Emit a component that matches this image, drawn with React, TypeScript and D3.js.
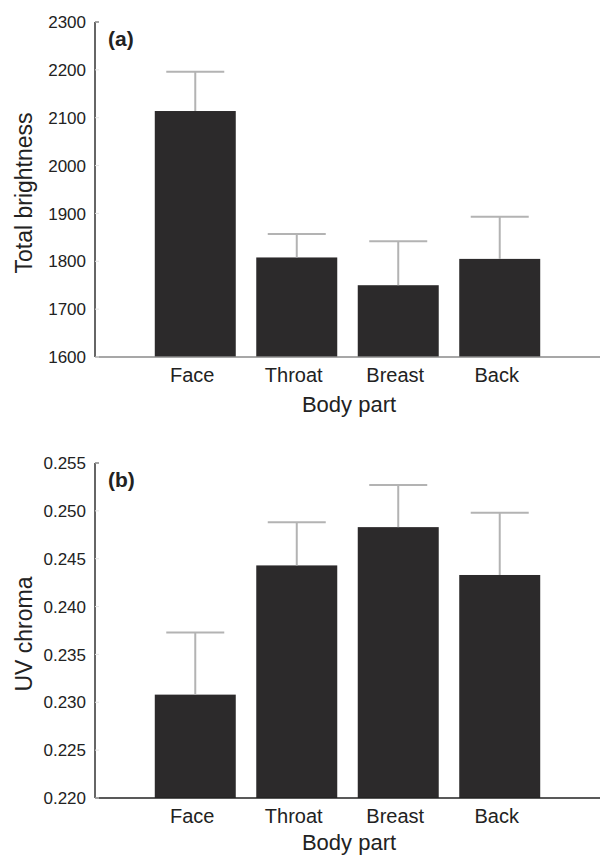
import React from "react";
import * as d3 from "d3";

const categories = ["Face", "Throat", "Breast", "Back"];
const brightness = [2114, 1808, 1750, 1805];
const brightnessErr = [2196, 1857, 1842, 1893];
const brightnessTicks = [1600, 1700, 1800, 1900, 2000, 2100, 2200, 2300];
const uvChroma = [0.2308, 0.2443, 0.2483, 0.2433];
const uvChromaErr = [0.2373, 0.2488, 0.2527, 0.2498];
const uvTicks = [0.22, 0.225, 0.23, 0.235, 0.24, 0.245, 0.25, 0.255];

const FONT = "Liberation Sans, Arial, sans-serif";
const AXIS_X = 95;

type PanelProps = {
  values: number[];
  errs: number[];
  ticks: number[];
  domain: [number, number];
  top: number;
  bottom: number;
  title: string;
  label: string;
  fmt: (v: number) => string;
  xAxisColor: string;
  titleY: number;
  xTitleOffset: number;
};

function Panel(p: PanelProps) {
  const y = d3.scaleLinear().domain(p.domain).range([p.bottom, p.top]);
  const x = d3
    .scaleBand<string>()
    .domain(categories)
    .range([AXIS_X, 600])
    .paddingInner(0.202)
    .paddingOuter(0.589);
  const bw = x.bandwidth();
  const capHalf = 29;
  return (
    <g>
      {categories.map((c, i) => (
        <rect
          key={"b" + c}
          x={x(c)!}
          y={y(p.values[i])}
          width={bw}
          height={p.bottom - y(p.values[i])}
          fill="#2c2a2b"
        />
      ))}
      {categories.map((c, i) => {
        const cx = x(c)! + bw / 2;
        return (
          <g key={"e" + c} stroke="#b3b3b3" strokeWidth={2}>
            <line x1={cx} x2={cx} y1={y(p.values[i])} y2={y(p.errs[i])} />
            <line x1={cx - capHalf} x2={cx + capHalf} y1={y(p.errs[i])} y2={y(p.errs[i])} />
          </g>
        );
      })}
      <line x1={AXIS_X} x2={600} y1={p.bottom} y2={p.bottom} stroke={p.xAxisColor} strokeWidth={1.5} />
      <line x1={AXIS_X} x2={AXIS_X} y1={p.top} y2={p.bottom} stroke="#333" strokeWidth={1.5} />
      <line x1={AXIS_X} x2={AXIS_X + 4} y1={p.top} y2={p.top} stroke="#333" strokeWidth={1.5} />
      {p.ticks.map((t) => (
        <g key={"t" + t}>
          <line x1={AXIS_X} x2={AXIS_X + 4} y1={y(t)} y2={y(t)} stroke="#e4e4e4" strokeWidth={1} />
          <text
            x={86}
            y={y(t)}
            dy="0.36em"
            textAnchor="end"
            fontSize={17}
            fontFamily={FONT}
            fill="#222"
          >
            {p.fmt(t)}
          </text>
        </g>
      ))}
      {categories.map((c) => (
        <text
          key={"l" + c}
          x={x(c)! + bw / 2 - 3}
          y={p.bottom + 25}
          textAnchor="middle"
          fontSize={20}
          fontFamily={FONT}
          fill="#222"
        >
          {c}
        </text>
      ))}
      <text
        x={349}
        y={p.bottom + p.xTitleOffset}
        textAnchor="middle"
        fontSize={22}
        fontFamily={FONT}
        fill="#222"
      >
        Body part
      </text>
      <text
        transform={`translate(32,${p.titleY}) rotate(-90)`}
        textAnchor="middle"
        fontSize={23}
        fontFamily={FONT}
        fill="#222"
      >
        {p.title}
      </text>
      <text x={108} y={p.top + 24} fontSize={21} fontWeight="bold" fontFamily={FONT} fill="#222">
        {p.label}
      </text>
    </g>
  );
}

export default function App() {
  return (
    <svg
      width={600}
      height={856}
      style={{ position: "absolute", left: 0, top: 0, background: "#fff" }}
    >
      <rect width={600} height={856} fill="#fff" />
      <Panel
        values={brightness}
        errs={brightnessErr}
        ticks={brightnessTicks}
        domain={[1600, 2300]}
        top={22}
        bottom={357}
        title="Total brightness"
        label="(a)"
        fmt={(v) => d3.format("d")(v)}
        xAxisColor="#8a8a8a"
        titleY={193}
        xTitleOffset={55}
      />
      <Panel
        values={uvChroma}
        errs={uvChromaErr}
        ticks={uvTicks}
        domain={[0.22, 0.255]}
        top={463}
        bottom={798}
        title="UV chroma"
        label="(b)"
        fmt={(v) => d3.format(".3f")(v)}
        xAxisColor="#222"
        titleY={634}
        xTitleOffset={52}
      />
    </svg>
  );
}
